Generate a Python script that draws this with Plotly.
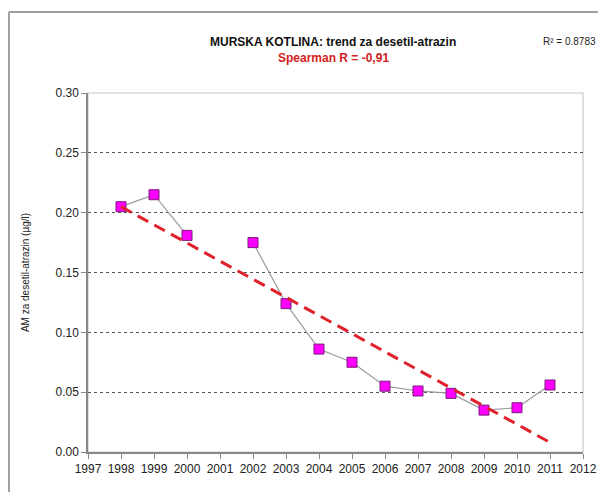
import plotly.graph_objects as go

years = [1998, 1999, 2000, 2001, 2002, 2003, 2004, 2005, 2006, 2007, 2008, 2009, 2010, 2011]
values = [0.205, 0.215, 0.181, None, 0.175, 0.124, 0.086, 0.075, 0.055, 0.051, 0.049, 0.035, 0.037, 0.056]
trend_x = [1998, 2011]
trend_y = [0.205, 0.008]

title_text = "MURSKA KOTLINA: trend za desetil-atrazin"
spearman_text = "Spearman R = -0,91"
r2_text = "R² = 0.8783"
y_title = "AM za desetil-atrazin (µg/l)"

font = "Liberation Sans, Arial, sans-serif"

# page body has an 8px margin; figure coordinates are offset accordingly
OFF = 8
L, T, R, B = 88 - OFF, 93 - OFF, 583 - OFF, 452 - OFF
W, H = 606 - 2 * OFF, 500 - 2 * OFF
PW, PH = R - L, B - T


def px(x):
    return (x - OFF - L) / PW


def py(y):
    return (B - (y - OFF)) / PH


fig = go.Figure()
fig.add_trace(go.Scatter(
    x=years, y=values, mode="lines+markers",
    line=dict(color="#9a9a9a", width=1.2),
    marker=dict(symbol="square", size=10, color="#ff00ff",
                line=dict(color="#7a1a7a", width=1)),
    connectgaps=False, showlegend=False, hoverinfo="skip"))
fig.add_trace(go.Scatter(
    x=trend_x, y=trend_y, mode="lines",
    line=dict(color="#e0202a", width=3, dash="12px,7px"),
    showlegend=False, hoverinfo="skip"))

fig.update_layout(
    width=W, height=H,
    margin=dict(l=L, r=W - R, t=T, b=H - B, pad=0, autoexpand=False),
    paper_bgcolor="white", plot_bgcolor="white",
    font=dict(family=font, size=12, color="#222"),
    xaxis=dict(range=[1997, 2012], dtick=1, tick0=1997, showgrid=False,
               automargin=False,
               ticks="outside", ticklen=5, tickcolor="#888",
               showline=True, linecolor="#888", linewidth=1.5, mirror=False,
               zeroline=False, tickfont=dict(size=12, color="#222")),
    yaxis=dict(range=[0, 0.30], dtick=0.05, tickformat=".2f", showgrid=True,
               automargin=False,
               gridcolor="#555", griddash="dot", gridwidth=1,
               ticks="outside", ticklen=5, tickcolor="#888",
               showline=True, linecolor="#888", linewidth=1.5,
               zeroline=False, tickfont=dict(size=12, color="#222"),
               title=dict(text=y_title, font=dict(size=10, color="#222"), standoff=24)),
    shapes=[
        dict(type="rect", xref="paper", yref="paper", x0=0, x1=1, y0=0, y1=1,
             line=dict(color="#c8c8c8", width=1.2), layer="below"),
        dict(type="line", xref="paper", yref="paper",
             x0=px(9), x1=px(9), y0=py(520), y1=py(12),
             line=dict(color="#a0a0a0", width=2)),
        dict(type="line", xref="paper", yref="paper",
             x0=px(9), x1=px(640), y0=py(12), y1=py(12),
             line=dict(color="#a0a0a0", width=2)),
    ],
    annotations=[
        dict(text="<b>" + title_text + "</b>", xref="paper", yref="paper",
             x=px(333), y=py(42), xanchor="center", yanchor="middle",
             showarrow=False, font=dict(size=12, color="#111")),
        dict(text="<b>" + spearman_text + "</b>", xref="paper", yref="paper",
             x=px(333), y=py(58), xanchor="center", yanchor="middle",
             showarrow=False, font=dict(size=12, color="#d42020")),
        dict(text=r2_text, xref="paper", yref="paper",
             x=px(569), y=py(42), xanchor="center", yanchor="middle",
             showarrow=False, font=dict(size=10, color="#222")),
    ],
)

fig.write_html("out.html")
